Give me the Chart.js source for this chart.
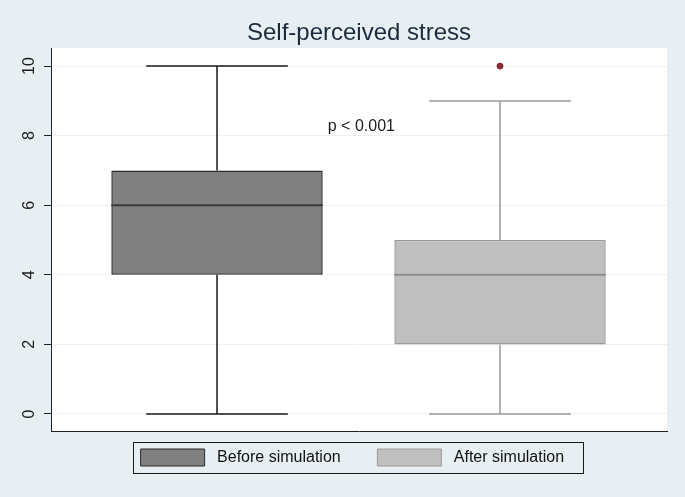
<!DOCTYPE html>
<html>
<head>
<meta charset="utf-8">
<script src="https://cdn.jsdelivr.net/npm/chart.js@4.4.0/dist/chart.umd.min.js"></script>
<style>
  html, body { margin: 0; padding: 0; background: #e8eff3; }
  #wrap { width: 685px; height: 497px; }
</style>
</head>
<body>
<div id="wrap"><canvas id="c" width="685" height="497"></canvas></div>
<script>
// ---- data ----
const groups = ['Before simulation', 'After simulation'];
const positions = [1, 2];
const whiskerLow = [0, 0];
const q1 = [4, 2];
const medians = [6, 4];
const q3 = [7, 5];
const whiskerHigh = [10, 9];
const outlierX = [2];
const outlierY = [10];
const yTicks = [0, 2, 4, 6, 8, 10];
const annotationText = ['p < 0.001'];
const annotationX = [1.51];
const annotationY = [8.26];

// ---- styles ----
const fills = ['#808080', '#bfbfbf'];
const borders = ['#2a2a2a', '#9a9a9a'];
const medianColors = ['#3a3a3a', '#8e8e8e'];
const whiskerColors = ['#1a1a1a', '#9a9a9a'];
const trailing = ['      ', '   '];

const bgPlugin = {
  id: 'bg',
  beforeDraw(chart) {
    const ctx = chart.ctx, a = chart.chartArea;
    ctx.save();
    ctx.fillStyle = '#e8eff3';
    ctx.fillRect(0, 0, chart.width, chart.height);
    ctx.fillStyle = '#ffffff';
    ctx.fillRect(a.left, a.top, a.right - a.left, a.bottom - a.top);
    ctx.restore();
  }
};

// centre title and legend on the plot region (as the original graph does)
const alignPlugin = {
  id: 'alignBlocks',
  afterLayout(chart) {
    const l = chart.chartArea.left;
    if (chart.titleBlock) chart.titleBlock.left = l;
    if (chart.legend) chart.legend.left = l;
  }
};

const boxPlugin = {
  id: 'boxparts',
  afterDatasetsDraw(chart) {
    const ctx = chart.ctx, xs = chart.scales.x, ys = chart.scales.y;
    ctx.save();
    groups.forEach((g, i) => {
      const el = chart.getDatasetMeta(i).data[0];
      const cx = xs.getPixelForValue(positions[i]);
      const bw = el.width;
      const cw = bw * 0.67;
      ctx.strokeStyle = whiskerColors[i];
      ctx.lineWidth = 1.5;
      ctx.beginPath();
      ctx.moveTo(cx, ys.getPixelForValue(q3[i]));
      ctx.lineTo(cx, ys.getPixelForValue(whiskerHigh[i]));
      ctx.moveTo(cx, ys.getPixelForValue(q1[i]));
      ctx.lineTo(cx, ys.getPixelForValue(whiskerLow[i]));
      const yh = ys.getPixelForValue(whiskerHigh[i]);
      const yl = ys.getPixelForValue(whiskerLow[i]);
      ctx.moveTo(cx - cw / 2, yh); ctx.lineTo(cx + cw / 2, yh);
      ctx.moveTo(cx - cw / 2, yl); ctx.lineTo(cx + cw / 2, yl);
      ctx.stroke();
      ctx.strokeStyle = medianColors[i];
      ctx.lineWidth = 2;
      const ym = ys.getPixelForValue(medians[i]);
      ctx.beginPath();
      ctx.moveTo(cx - bw / 2, ym); ctx.lineTo(cx + bw / 2, ym);
      ctx.stroke();
    });
    ctx.fillStyle = '#1e1e1e';
    ctx.font = '16px "Liberation Sans", Arial, sans-serif';
    ctx.textAlign = 'center';
    ctx.textBaseline = 'middle';
    annotationText.forEach((t, i) => {
      ctx.fillText(t, xs.getPixelForValue(annotationX[i]), ys.getPixelForValue(annotationY[i]));
    });
    ctx.restore();
  },
  afterDraw(chart) {
    const hb = chart.legend && chart.legend.legendHitBoxes;
    if (!hb || hb.length < 2) return;
    const ctx = chart.ctx;
    const left = hb[0].left - 8;
    const right = hb[hb.length - 1].left + hb[hb.length - 1].width + 5;
    const top = hb[0].top - 7;
    const bottom = hb[0].top + hb[0].height + 7;
    ctx.save();
    ctx.strokeStyle = '#1a1a1a';
    ctx.lineWidth = 1;
    ctx.strokeRect(Math.round(left) + 0.5, Math.round(top) + 0.5, Math.round(right - left), Math.round(bottom - top));
    ctx.restore();
  }
};

const datasets = groups.map((g, i) => ({
  type: 'bar',
  label: g,
  data: [{ x: positions[i], y: [q1[i], q3[i]] }],
  backgroundColor: fills[i],
  borderColor: borders[i],
  borderWidth: 1.5,
  borderSkipped: false,
  grouped: false,
  categoryPercentage: 1,
  barPercentage: 0.747
}));
datasets.push({
  type: 'scatter',
  label: 'outliers',
  data: outlierX.map((x, i) => ({ x: x, y: outlierY[i] })),
  backgroundColor: '#8c2a36',
  borderColor: '#8c2a36',
  pointRadius: 3,
  pointHoverRadius: 3
});

const font = '"Liberation Sans", Arial, sans-serif';

new Chart(document.getElementById('c'), {
  type: 'bar',
  data: { datasets },
  options: {
    responsive: false,
    animation: false,
    devicePixelRatio: 1,
    layout: { padding: { left: 0, right: 18, top: 0, bottom: 21 } },
    plugins: {
      title: {
        display: true,
        text: 'Self-perceived stress',
        color: '#1c2b3c',
        font: { family: font, size: 24, weight: 'normal' },
        padding: { top: 18.6, bottom: 0.6 }
      },
      legend: {
        display: true,
        position: 'bottom',
        labels: {
          boxWidth: 64,
          boxHeight: 17,
          padding: 10,
          color: '#111111',
          font: { family: font, size: 16 },
          filter: (item) => item.datasetIndex < groups.length,
          generateLabels: (chart) => {
            const items = Chart.defaults.plugins.legend.labels.generateLabels(chart);
            items.forEach(it => {
              if (it.datasetIndex < groups.length) {
                it.text = ' ' + groups[it.datasetIndex] + trailing[it.datasetIndex];
                it.lineWidth = 1;
              }
            });
            return items;
          }
        }
      },
      tooltip: { enabled: false }
    },
    scales: {
      x: {
        type: 'linear',
        offset: false,
        min: 0.4134,
        max: 2.590,
        afterBuildTicks: (s) => { s.ticks = positions.map(v => ({ value: v })); },
        afterFit: (s) => { s.height = 8; },
        ticks: { display: false },
        grid: { display: false },
        border: { display: true, color: '#222222', width: 1 }
      },
      y: {
        type: 'linear',
        min: -0.49,
        max: 10.52,
        afterBuildTicks: (s) => { s.ticks = yTicks.map(v => ({ value: v })); },
        afterFit: (s) => { s.width = 51; },
        ticks: {
          minRotation: 90,
          maxRotation: 90,
          autoSkip: false,
          crossAlign: 'center',
          padding: 6,
          color: '#1a1a1a',
          font: { family: font, size: 16 }
        },
        grid: {
          color: '#edf1f4',
          lineWidth: 1,
          drawTicks: true,
          tickLength: 7,
          tickColor: '#222222'
        },
        border: { display: true, color: '#222222', width: 1 }
      }
    }
  },
  plugins: [bgPlugin, alignPlugin, boxPlugin]
});
</script>
</body>
</html>
